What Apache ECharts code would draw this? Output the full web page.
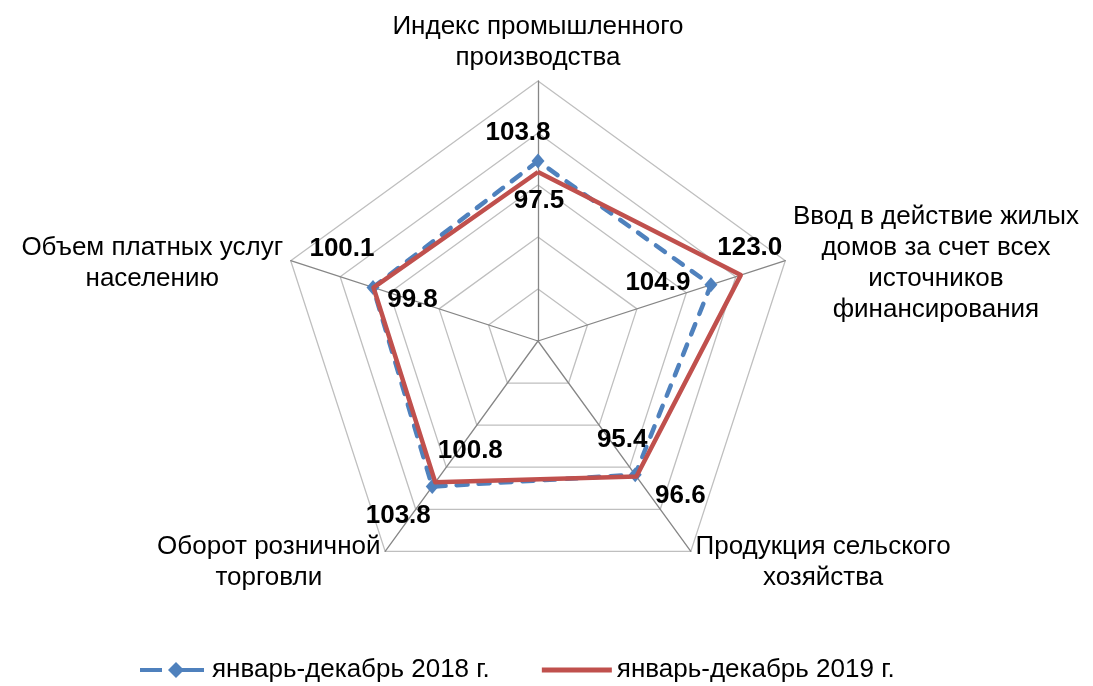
<!DOCTYPE html>
<html>
<head>
<meta charset="utf-8">
<script src="https://cdn.jsdelivr.net/npm/echarts@6/dist/echarts.min.js"></script>
<style>
  html, body { margin: 0; padding: 0; background: #fff; }
  #chart { width: 1093px; height: 686px; }
</style>
</head>
<body>
<div id="chart"></div>
<script>
// данные (порядок осей - против часовой стрелки, начиная сверху)
var indicators = [
    'Индекс промышленного\nпроизводства',
    'Объем платных услуг\nнаселению',
    'Оборот розничной\nторговли',
    'Продукция сельского\nхозяйства',
    'Ввод в действие жилых\nдомов за счет всех\nисточников\nфинансирования'
];
var seriesNames = ['январь-декабрь 2018 г.', 'январь-декабрь 2019 г.'];
var values2018 = [103.8, 100.1, 103.8, 95.4, 104.9];
var values2019 = [97.5, 99.8, 100.8, 96.6, 123.0];

// сдвиг подписей относительно точки [dx, dy]
var shift2018 = [[-20, -28], [-31, -39], [-34, 29], [-13, -35], [-53, -2]];
var shift2019 = [[1, 29], [39, 12], [35, -32], [44, 19], [9, -27]];

var FONT = '"Liberation Sans", Arial, sans-serif';

function labelRich(shift) {
    var rich = {};
    shift.forEach(function(s, i) {
        var dx = s[0], dy = s[1];
        rich['p' + i] = {
            fontFamily: FONT,
            fontSize: 26,
            fontWeight: 'bold',
            color: '#000',
            padding: [Math.max(0, 2 * dy), Math.max(0, -2 * dx), Math.max(0, -2 * dy), Math.max(0, 2 * dx)]
        };
    });
    return rich;
}

function labelFormatter(params) {
    return '{p' + params.dimensionIndex + '|' + Number(params.value).toFixed(1) + '}';
}

var chart = echarts.init(document.getElementById('chart'));
var option = {
    animation: false,
    legend: {
        left: 135,
        top: 652,
        itemWidth: 70,
        itemHeight: 16,
        itemGap: 52,
        itemStyle: { borderWidth: 0 },
        textStyle: { fontFamily: FONT, fontSize: 26, color: '#000' },
        data: [
            { name: seriesNames[0], icon: 'path://M0,6H22V10H0Z M36,0L44,8L36,16L28,8Z M42,6H64V10H42Z' },
            { name: seriesNames[1], icon: 'path://M0,0H70V5H0Z' }
        ]
    },
    radar: {
        center: [538, 341],
        radius: 260,
        startAngle: 90,
        shape: 'polygon',
        splitNumber: 5,
        nameGap: 8,
        indicator: indicators.map(function(n) {
            return { name: n, min: 0, max: 150 };
        }),
        axisName: {
            padding: [10, 0, 0, 0],
            formatter: function(name) {
                return name.split('\n').map(function(l) { return '{c|' + l + '}'; }).join('\n');
            },
            rich: {
                c: { align: 'center', fontFamily: FONT, fontSize: 26, lineHeight: 31, color: '#000' }
            }
        },
        axisLine: { lineStyle: { color: '#868686', width: 1.3 } },
        splitLine: { lineStyle: { color: '#BFBFBF', width: 1.3 } },
        splitArea: { show: false }
    },
    series: [
        {
            name: seriesNames[0],
            type: 'radar',
            z: 2,
            symbol: 'diamond',
            symbolSize: [13, 15],
            itemStyle: { color: '#4F81BD', borderWidth: 0 },
            lineStyle: { color: '#4F81BD', width: 4.5, type: [11, 11], cap: 'round' },
            label: { show: true, position: 'inside', formatter: labelFormatter, rich: labelRich(shift2018) },
            data: [{ name: seriesNames[0], value: values2018 }]
        },
        {
            name: seriesNames[1],
            type: 'radar',
            z: 3,
            symbol: 'circle',
            symbolSize: 1,
            itemStyle: { color: '#C0504D', borderWidth: 0 },
            lineStyle: { color: '#C0504D', width: 4.5 },
            label: { show: true, position: 'inside', formatter: labelFormatter, rich: labelRich(shift2019) },
            data: [{ name: seriesNames[1], value: values2019 }]
        }
    ]
};
chart.setOption(option);
</script>
</body>
</html>
